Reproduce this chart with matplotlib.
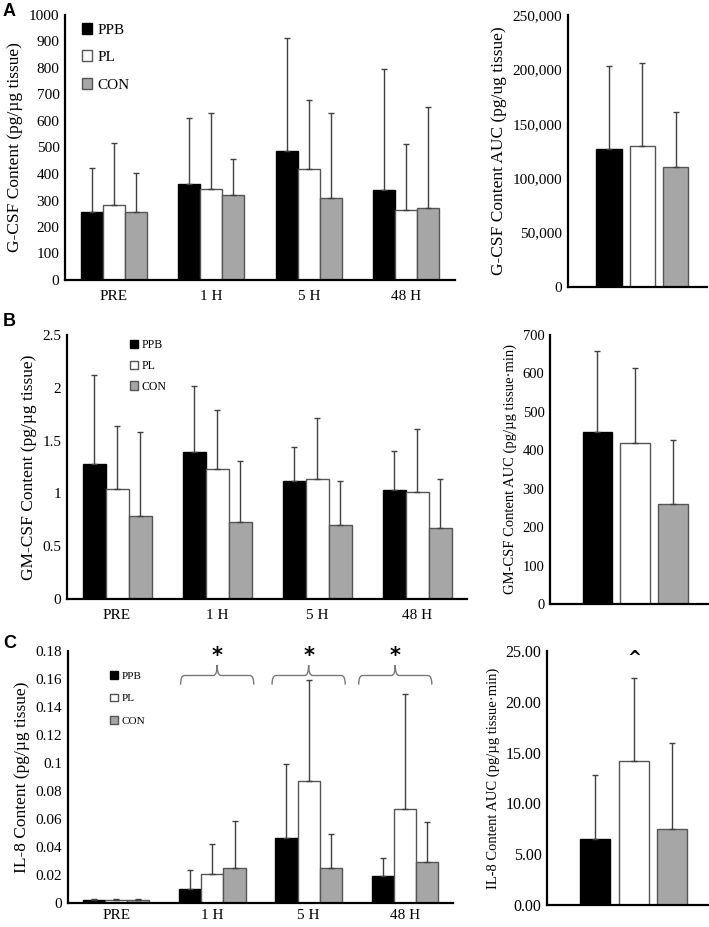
import numpy as np
import matplotlib
matplotlib.use("Agg")
import matplotlib.pyplot as plt
from matplotlib.patches import Patch
from matplotlib.path import Path
from matplotlib.patches import PathPatch

plt.rcParams['font.family'] = ['Liberation Serif', 'DejaVu Serif']

# --- data ---
times = ['PRE', '1 H', '5 H', '48 H']
groups = ['PPB', 'PL', 'CON']

gcsf_mean = {'PPB': [258, 362, 485, 340], 'PL': [282, 344, 420, 264], 'CON': [255, 322, 308, 273]}
gcsf_top = {'PPB': [422, 612, 912, 795], 'PL': [518, 630, 678, 512], 'CON': [405, 455, 632, 653]}
gcsf_auc = [127000, 130000, 110000]
gcsf_auc_top = [203000, 206000, 161000]

gmcsf_mean = {'PPB': [1.28, 1.39, 1.12, 1.03], 'PL': [1.04, 1.23, 1.14, 1.01], 'CON': [0.79, 0.73, 0.70, 0.67]}
gmcsf_top = {'PPB': [2.12, 2.02, 1.44, 1.40], 'PL': [1.64, 1.79, 1.71, 1.61], 'CON': [1.58, 1.31, 1.12, 1.14]}
gmcsf_auc = [447, 420, 260]
gmcsf_auc_top = [658, 615, 428]

il8_mean = {'PPB': [0.002, 0.0102, 0.0467, 0.019], 'PL': [0.002, 0.021, 0.0869, 0.0671], 'CON': [0.002, 0.0252, 0.025, 0.0293]}
il8_top = {'PPB': [0.003, 0.0238, 0.0995, 0.032], 'PL': [0.003, 0.0424, 0.159, 0.149], 'CON': [0.003, 0.0586, 0.0495, 0.0581]}
il8_auc = [6.45, 14.22, 7.44]
il8_auc_top = [12.84, 22.35, 15.9]

# significance braces in panel C (center on x axis)
brace_centers = [1.05, 2.0, 2.9]

face = {'PPB': 'black', 'PL': 'white', 'CON': '#a6a6a6'}
edge = {'PPB': 'black', 'PL': '#555555', 'CON': '#555555'}
err_col = '#404040'

W, H = 709, 927
fig = plt.figure(figsize=(W / 100, H / 100), dpi=100)


def add_ax(x0, x1, ytop, ybot):
    return fig.add_axes([x0 / W, 1 - ybot / H, (x1 - x0) / W, (ybot - ytop) / H])


def style(ax, tick_fs):
    for s in ['top', 'right']:
        ax.spines[s].set_visible(False)
    for s in ['left', 'bottom']:
        ax.spines[s].set_linewidth(1.6)
    ax.tick_params(length=0, labelsize=tick_fs, pad=4)


def time_bars(ax, means, tops, width):
    x = np.arange(len(times))
    for i, g in enumerate(groups):
        m = np.array(means[g])
        up = np.array(tops[g]) - m
        xi = x + (i - 1) * width
        ax.bar(xi, m, width, color=face[g], edgecolor=edge[g], linewidth=1, zorder=2)
        ax.errorbar(xi, m, yerr=[np.zeros_like(up), up], fmt='none', ecolor=err_col,
                    elinewidth=1, capsize=2.5, capthick=1, zorder=3)
    ax.set_xticks(x)
    ax.set_xticklabels(times)
    ax.set_xlim(-0.5, 3.5)


def auc_bars(ax, vals, tops, width=0.78):
    x = np.arange(3)
    v = np.array(vals)
    up = np.array(tops) - v
    for i, g in enumerate(groups):
        ax.bar(x[i], v[i], width, color=face[g], edgecolor=edge[g], linewidth=1, zorder=2)
    ax.errorbar(x, v, yerr=[np.zeros_like(up), up], fmt='none', ecolor=err_col,
                elinewidth=1, capsize=2.5, capthick=1, zorder=3)
    ax.set_xticks([])
    ax.set_xlim(-1.25, 2.95)


def legend(ax, fs, anchor, spacing):
    handles = [Patch(facecolor=face[g], edgecolor=edge[g]) for g in groups]
    ax.legend(handles, groups, loc='upper left', bbox_to_anchor=anchor, frameon=False,
              fontsize=fs, handlelength=0.7, handleheight=0.7, handletextpad=0.3,
              labelspacing=spacing, borderpad=0, borderaxespad=0)


# --- A ---
axA = add_ax(65, 455, 15, 280)
time_bars(axA, gcsf_mean, gcsf_top, 0.225)
axA.set_ylim(0, 1000)
axA.set_yticks(np.arange(0, 1001, 100))
axA.set_ylabel('G-CSF Content (pg/µg tissue)', fontsize=12.5)
style(axA, 11)
axA.tick_params(axis='x', pad=7)
legend(axA, 11, (0.043, 0.97), 0.9)

axA2 = add_ax(568, 707, 15, 287)
auc_bars(axA2, gcsf_auc, gcsf_auc_top)
axA2.set_ylim(0, 250000)
axA2.set_yticks(np.arange(0, 250001, 50000))
axA2.yaxis.set_major_formatter(matplotlib.ticker.StrMethodFormatter('{x:,.0f}'))
axA2.set_ylabel('G-CSF Content AUC (pg/ug tissue)', fontsize=12.5)
style(axA2, 11)

# --- B ---
axB = add_ax(67, 467, 335, 599)
time_bars(axB, gmcsf_mean, gmcsf_top, 0.23)
axB.set_ylim(0, 2.5)
axB.set_yticks([0, 0.5, 1, 1.5, 2, 2.5])
axB.set_yticklabels(['0', '0.5', '1', '1.5', '2', '2.5'])
axB.set_ylabel('GM-CSF Content (pg/µg tissue)', fontsize=12.5)
style(axB, 11)
axB.tick_params(axis='x', pad=7)
legend(axB, 8.5, (0.157, 0.985), 0.75)

axB2 = add_ax(550, 709, 335, 604)
auc_bars(axB2, gmcsf_auc, gmcsf_auc_top)
axB2.set_ylim(0, 700)
axB2.set_yticks(np.arange(0, 701, 100))
axB2.set_ylabel('GM-CSF Content AUC (pg/µg tissue·min)', fontsize=10.5)
style(axB2, 10.5)

# --- C ---
axC = add_ax(68, 453, 651, 903)
time_bars(axC, il8_mean, il8_top, 0.23)
axC.set_ylim(0, 0.18)
axC.set_yticks(np.arange(0, 0.181, 0.02))
axC.set_yticklabels(['0', '0.02', '0.04', '0.06', '0.08', '0.1', '0.12', '0.14', '0.16', '0.18'])
axC.set_ylabel('IL-8 Content (pg/µg tissue)', fontsize=12.5)
style(axC, 11)
axC.tick_params(axis='x', pad=4)
legend(axC, 8, (0.11, 0.92), 1.15)

half = 0.38
for xc in brace_centers:
    x0, x1 = xc - half, xc + half
    yb, yh, yt, d = 0.156, 0.1625, 0.170, 0.04
    verts = [(x0, yb), (x0, yh), (x0 + d, yh), (xc - d, yh), (xc, yh), (xc, yt),
             (xc, yh), (xc + d, yh), (x1 - d, yh), (x1, yh), (x1, yb)]
    codes = [Path.MOVETO, Path.CURVE3, Path.CURVE3, Path.LINETO, Path.CURVE3, Path.CURVE3,
             Path.CURVE3, Path.CURVE3, Path.LINETO, Path.CURVE3, Path.CURVE3]
    axC.add_patch(PathPatch(Path(verts, codes), facecolor='none', edgecolor='#777777',
                            linewidth=1, clip_on=False))
    axC.text(xc, 0.1765, '*', ha='center', va='center', fontsize=15, fontweight='bold',
             family='DejaVu Sans')

axC2 = add_ax(547, 709, 651, 905)
auc_bars(axC2, il8_auc, il8_auc_top)
axC2.set_ylim(0, 25)
axC2.set_yticks(np.arange(0, 25.1, 5))
axC2.yaxis.set_major_formatter(matplotlib.ticker.StrMethodFormatter('{x:.2f}'))
axC2.set_ylabel('IL-8 Content AUC (pg/µg tissue·min)', fontsize=10.5)
style(axC2, 11.5)
axC2.text(1, 24.3, '^', ha='center', va='center', fontsize=12, fontweight='bold',
          family='DejaVu Sans')

# panel letters
for lab, yy in [('A', 12), ('B', 322), ('C', 643)]:
    fig.text(3 / W, 1 - yy / H, lab, fontsize=13, fontweight='bold', family='Liberation Sans',
             ha='left', va='center')

fig.savefig('out.png', dpi=100)
